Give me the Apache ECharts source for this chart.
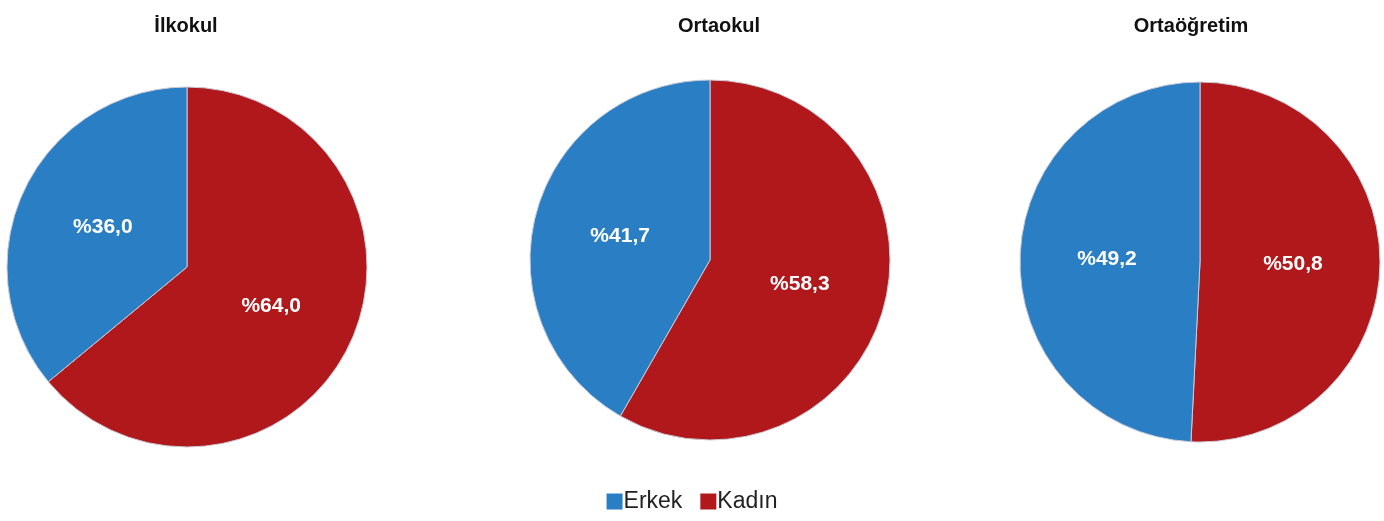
<!DOCTYPE html>
<html><head><meta charset="utf-8">
<script src="https://cdn.jsdelivr.net/npm/echarts@6/dist/echarts.min.js"></script>
<style>html,body{margin:0;padding:0;background:#fff}#c{width:1384px;height:521px}</style>
</head><body><div id="c"></div>
<script>
const titles = ['İlkokul', 'Ortaokul', 'Ortaöğretim'];
const erkek = [36.0, 41.7, 49.2];
const kadin = [64.0, 58.3, 50.8];
const legendNames = ['Erkek', 'Kadın'];
const colors = {Erkek: '#2a7fc4', 'Kadın': '#b0181b'};
const centers = [[187, 267], [710, 260], [1200, 262]];
const titlePos = [181, 714, 1186];

const chart = echarts.init(document.getElementById('c'));
const fmt = v => '%' + v.toFixed(1).replace('.', ',');
chart.setOption({
  animation: false,
  title: titles.map((t, i) => ({
    text: t, left: titlePos[i], top: 11, textAlign: 'center',
    textStyle: {fontFamily: 'Liberation Sans, Arial', fontWeight: 'bold', fontSize: 20, color: '#111'}
  })),
  legend: {
    data: legendNames, bottom: 3, left: 'center', itemWidth: 16, itemHeight: 16, itemGap: 18,
    icon: 'rect', itemStyle: {borderWidth: 0},
    textStyle: {fontFamily: 'Liberation Sans, Arial', fontSize: 23, color: '#222', padding: [0, 0, 0, -4]}
  },
  series: titles.map((t, i) => ({
    type: 'pie', center: centers[i], radius: 180, startAngle: 90, clockwise: true,
    itemStyle: {borderColor: '#c9c9d6', borderWidth: 1},
    label: {
      position: 'inside', formatter: p => fmt(p.value), color: '#fff',
      fontFamily: 'Liberation Sans, Arial', fontWeight: 'bold', fontSize: 21
    },
    labelLine: {show: false},
    emphasis: {disabled: true},
    data: [
      {name: 'Kadın', value: kadin[i], itemStyle: {color: colors['Kadın']}},
      {name: 'Erkek', value: erkek[i], itemStyle: {color: colors.Erkek}}
    ]
  }))
});
</script></body></html>
